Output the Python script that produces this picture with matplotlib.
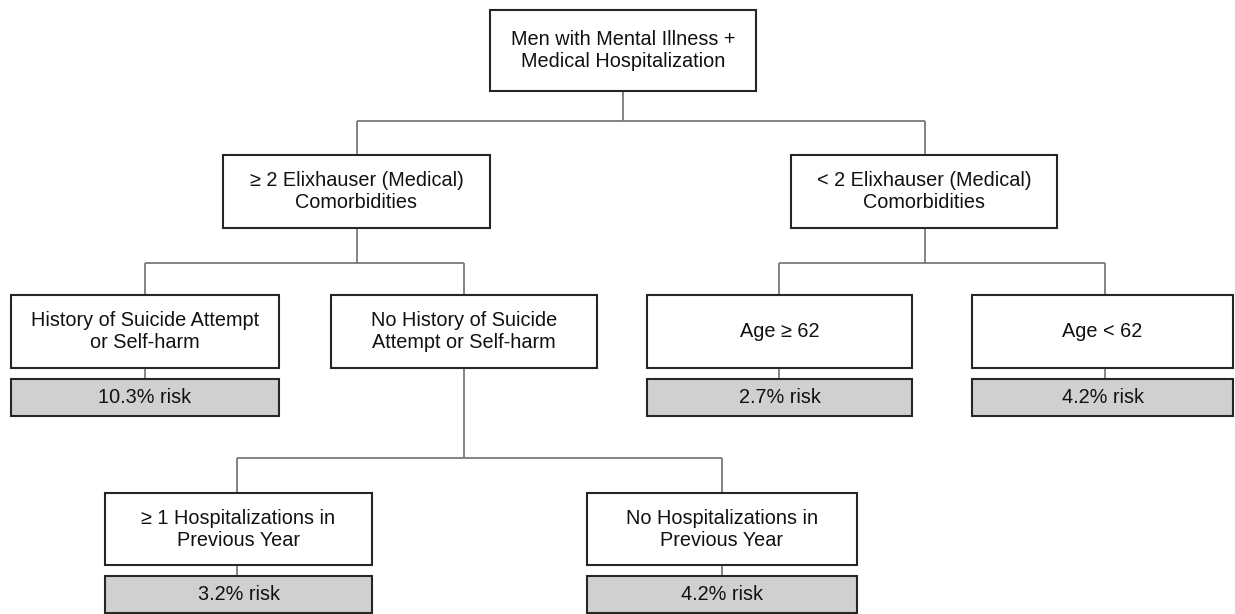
import matplotlib
matplotlib.use("Agg")
import matplotlib.pyplot as plt
from matplotlib.patches import Rectangle

# ---- data ----
node_labels = [
    "Men with Mental Illness +\nMedical Hospitalization",
    "\u2265 2 Elixhauser (Medical)\nComorbidities",
    "< 2 Elixhauser (Medical)\nComorbidities",
    "History of Suicide Attempt\nor Self-harm",
    "No History of Suicide\nAttempt or Self-harm",
    "Age \u2265 62",
    "Age < 62",
    "\u2265 1 Hospitalizations in\nPrevious Year",
    "No Hospitalizations in\nPrevious Year",
]
node_parent = [None, 0, 0, 1, 1, 2, 2, 4, 4]
leaf_nodes = [3, 5, 6, 7, 8]
leaf_risk = [10.3, 2.7, 4.2, 3.2, 4.2]

# ---- layout (pixels) ----
node_x0 = [490, 223, 791, 11, 331, 647, 972, 105, 587]
node_x1 = [756, 490, 1057, 279, 597, 912, 1233, 372, 857]
node_y0 = [10, 155, 155, 295, 295, 295, 295, 493, 493]
node_y1 = [91, 228, 228, 368, 368, 368, 368, 565, 565]
branch_y = {0: 121, 1: 263, 2: 263, 4: 458}
child_line_x = {1: 357, 2: 925, 3: 145, 4: 464, 5: 779, 6: 1105, 7: 237, 8: 722}
risk_h0, risk_h1 = 11, 48  # offsets below node bottom

W, H = 1235, 614
fig = plt.figure(figsize=(W / 100, H / 100), dpi=100)
ax = fig.add_axes([0, 0, 1, 1])
ax.set_xlim(0, W)
ax.set_ylim(H, 0)
ax.axis("off")

FONT = "Liberation Sans"
FS = 14.3
edge = "#262626"
conn = "#7a7a7a"
lw_box = 1.5
lw_conn = 1.3

# connectors
for p, by in branch_y.items():
    kids = [i for i, q in enumerate(node_parent) if q == p]
    px = (node_x0[p] + node_x1[p]) / 2 if p not in child_line_x else child_line_x[p]
    ax.plot([px, px], [node_y1[p], by], color=conn, lw=lw_conn, solid_capstyle="butt")
    xs = [child_line_x[k] for k in kids]
    ax.plot([min(xs), max(xs)], [by, by], color=conn, lw=lw_conn, solid_capstyle="butt")
    for k in kids:
        ax.plot([child_line_x[k], child_line_x[k]], [by, node_y0[k]], color=conn,
                lw=lw_conn, solid_capstyle="butt")

# boxes
for i, lab in enumerate(node_labels):
    x0, x1, y0, y1 = node_x0[i], node_x1[i], node_y0[i], node_y1[i]
    ax.add_patch(Rectangle((x0, y0), x1 - x0, y1 - y0, facecolor="white",
                           edgecolor=edge, lw=lw_box, zorder=3))
    ax.text((x0 + x1) / 2, (y0 + y1) / 2, lab, ha="center", va="center",
            fontsize=FS, family=FONT, color="#111111", linespacing=1.2, zorder=4)

# risk boxes
for n, r in zip(leaf_nodes, leaf_risk):
    x0, x1 = node_x0[n], node_x1[n]
    ry0, ry1 = node_y1[n] + risk_h0, node_y1[n] + risk_h1
    cx = child_line_x[n]
    ax.plot([cx, cx], [node_y1[n], ry0], color=conn, lw=lw_conn, solid_capstyle="butt")
    ax.add_patch(Rectangle((x0, ry0), x1 - x0, ry1 - ry0, facecolor="#d0d0d0",
                           edgecolor=edge, lw=lw_box, zorder=3))
    ax.text((x0 + x1) / 2, (ry0 + ry1) / 2, f"{r:.1f}% risk", ha="center",
            va="center", fontsize=FS, family=FONT, color="#111111", zorder=4)

fig.savefig("out.png", dpi=100, facecolor="white")
